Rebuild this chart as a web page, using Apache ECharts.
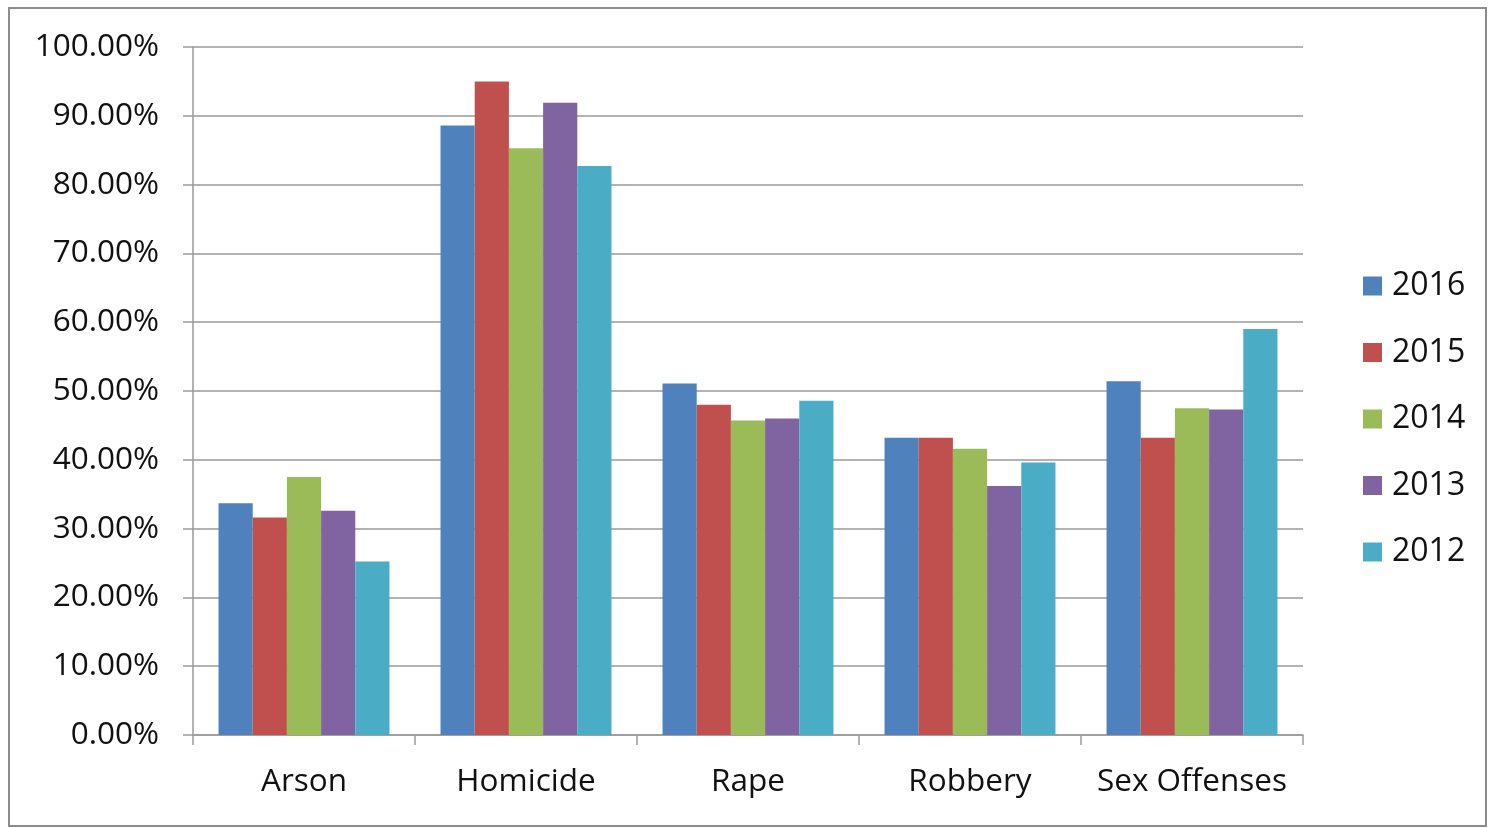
<!DOCTYPE html>
<html>
<head>
<meta charset="utf-8">
<title>Clearance rates by offense</title>
<script src="https://cdn.jsdelivr.net/npm/echarts@6/dist/echarts.min.js"></script>
<style>
  html, body { margin: 0; padding: 0; background: #ffffff; }
  #chart { width: 1489px; height: 828px; }
</style>
</head>
<body>
<div id="chart"></div>
<script>
const categories = ['Arson', 'Homicide', 'Rape', 'Robbery', 'Sex Offenses']
const years = ['2016', '2015', '2014', '2013', '2012']
const colors = ['#4f81bd', '#c0504d', '#9bbb59', '#8064a2', '#4bacc6']

// percent values per year, in category order
const values2016 = [33.7, 88.6, 51.1, 43.2, 51.4]
const values2015 = [31.6, 95.0, 48.0, 43.2, 43.2]
const values2014 = [37.5, 85.3, 45.7, 41.6, 47.5]
const values2013 = [32.6, 91.9, 46.0, 36.2, 47.3]
const values2012 = [25.2, 82.7, 48.6, 39.6, 59.0]
const seriesValues = [values2016, values2015, values2014, values2013, values2012]

const yTicks = { min: 0, max: 100, interval: 10 }

const fontFamily = '"Open Sans", "Liberation Sans", sans-serif'
const gridColor = '#9a9a9a'
const textColor = '#111111'

const chart = echarts.init(document.getElementById('chart'))

chart.setOption({
  backgroundColor: '#ffffff',
  animation: false,
  textStyle: { fontFamily },
  graphic: [
    {
      type: 'rect',
      shape: { x: 9, y: 8, width: 1477, height: 818 },
      style: { fill: 'none', stroke: '#8c8c8c', lineWidth: 2 },
      silent: true,
    },
  ],
  grid: {
    left: 193,
    right: 186,
    top: 47,
    bottom: 93,
  },
  legend: {
    orient: 'vertical',
    left: 1363,
    top: 270,
    padding: 0,
    itemWidth: 19,
    itemHeight: 19,
    itemGap: 34.5,
    icon: 'rect',
    data: years,
    textStyle: {
      fontFamily,
      fontSize: 32,
      lineHeight: 32,
      color: textColor,
      padding: [0, 0, 0, 5],
    },
  },
  xAxis: {
    type: 'category',
    data: categories,
    axisLine: { lineStyle: { color: gridColor, width: 1.5 } },
    axisTick: { show: true, length: 10, lineStyle: { color: gridColor, width: 1.5 } },
    axisLabel: {
      color: textColor,
      fontSize: 31.5,
      fontFamily,
      margin: 31,
      interval: 0,
    },
  },
  yAxis: {
    type: 'value',
    min: yTicks.min,
    max: yTicks.max,
    interval: yTicks.interval,
    axisLine: { show: true, lineStyle: { color: gridColor, width: 1.5 } },
    axisTick: { show: true, length: 10, lineStyle: { color: gridColor, width: 1.5 } },
    splitLine: { lineStyle: { color: gridColor, width: 1.5 } },
    axisLabel: {
      color: textColor,
      fontSize: 31.5,
      fontFamily,
      margin: 34,
      formatter: (v) => v.toFixed(2) + '%',
    },
  },
  series: years.map((year, i) => ({
    name: year,
    type: 'bar',
    data: seriesValues[i],
    barGap: '0%',
    barCategoryGap: '23%',
    itemStyle: { color: colors[i] },
  })),
})
</script>
</body>
</html>
